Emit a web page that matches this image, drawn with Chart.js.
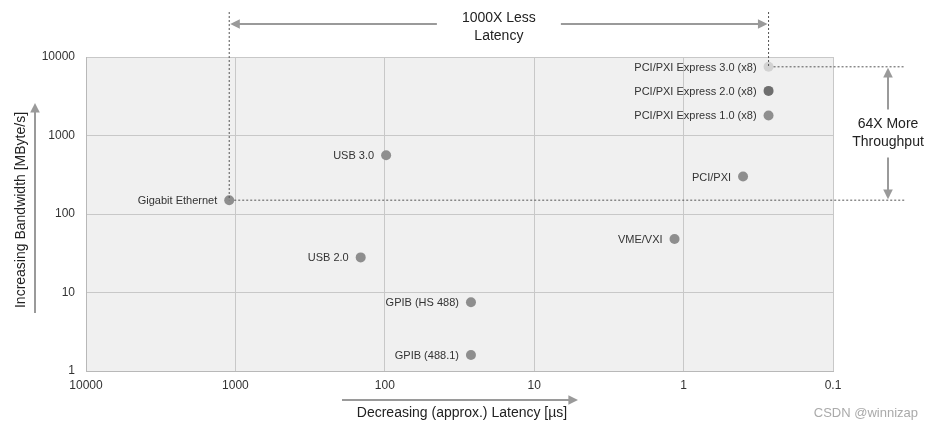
<!DOCTYPE html>
<html>
<head>
<meta charset="utf-8">
<script src="https://cdn.jsdelivr.net/npm/chart.js@4/dist/chart.umd.min.js"></script>
<style>
  html, body { margin: 0; padding: 0; background: #fff; }
  #wrap { width: 934px; height: 429px; }
</style>
</head>
<body>
<div id="wrap"><canvas id="bus-chart"></canvas></div>
<script>
const busNames = [
  'Gigabit Ethernet', 'USB 3.0', 'USB 2.0', 'GPIB (HS 488)', 'GPIB (488.1)',
  'VME/VXI', 'PCI/PXI', 'PCI/PXI Express 3.0 (x8)', 'PCI/PXI Express 2.0 (x8)',
  'PCI/PXI Express 1.0 (x8)',
]
// latency in µs, bandwidth in MByte/s
const latency = [1100, 98, 145, 26.5, 26.5, 1.15, 0.4, 0.27, 0.27, 0.27]
const bandwidth = [150, 560, 28, 7.5, 1.6, 48, 300, 7500, 3700, 1800]
const xTicks = [10000, 1000, 100, 10, 1, 0.1]
const yTicks = [1, 10, 100, 1000, 10000]

const pointColors = busNames.map(n =>
  n.includes('3.0 (x8)') ? '#d2d2d2' : n.includes('2.0 (x8)') ? '#6e6e6e' : '#8e8e8e')

const FONT = '"Liberation Sans", Arial, sans-serif'
const ARROW = '#9a9a9a'

function arrowHead(ctx, x, y, dir) {
  const s = 6
  ctx.beginPath()
  if (dir === 'left') { ctx.moveTo(x, y); ctx.lineTo(x + s * 1.6, y - s * 0.8); ctx.lineTo(x + s * 1.6, y + s * 0.8) }
  if (dir === 'right') { ctx.moveTo(x, y); ctx.lineTo(x - s * 1.6, y - s * 0.8); ctx.lineTo(x - s * 1.6, y + s * 0.8) }
  if (dir === 'up') { ctx.moveTo(x, y); ctx.lineTo(x - s * 0.8, y + s * 1.6); ctx.lineTo(x + s * 0.8, y + s * 1.6) }
  if (dir === 'down') { ctx.moveTo(x, y); ctx.lineTo(x - s * 0.8, y - s * 1.6); ctx.lineTo(x + s * 0.8, y - s * 1.6) }
  ctx.closePath()
  ctx.fill()
}

function line(ctx, x1, y1, x2, y2) {
  ctx.beginPath()
  ctx.moveTo(x1, y1)
  ctx.lineTo(x2, y2)
  ctx.stroke()
}

const plotBg = {
  id: 'plotBg',
  beforeDraw(chart) {
    const { ctx, chartArea: a } = chart
    ctx.save()
    ctx.fillStyle = '#f0f0f0'
    ctx.fillRect(a.left, a.top, a.right - a.left, a.bottom - a.top)
    ctx.restore()
  },
}

const annotations = {
  id: 'annotations',
  afterDraw(chart) {
    const { ctx } = chart
    const xs = chart.scales.x
    const ys = chart.scales.y
    const gx = xs.getPixelForValue(latency[0])
    const gy = ys.getPixelForValue(bandwidth[0])
    const px = xs.getPixelForValue(latency[7])
    const py = ys.getPixelForValue(bandwidth[7])
    ctx.save()

    // point labels
    ctx.font = '11px ' + FONT
    ctx.fillStyle = '#333'
    ctx.textAlign = 'right'
    ctx.textBaseline = 'middle'
    busNames.forEach((name, i) => {
      const x = xs.getPixelForValue(latency[i])
      const y = ys.getPixelForValue(bandwidth[i])
      ctx.fillText(name, x - 12, y + 1)
    })

    // dashed guide lines
    ctx.strokeStyle = '#555'
    ctx.lineWidth = 1
    ctx.setLineDash([2, 2])
    line(ctx, gx, 12, gx, gy)
    line(ctx, px, 12, px, py)
    line(ctx, gx + 5, gy, 905, gy)
    line(ctx, px + 5, py, 905, py)
    ctx.setLineDash([])

    // top latency arrow
    const topY = 24
    const mid = (gx + px) / 2
    ctx.strokeStyle = ARROW
    ctx.fillStyle = ARROW
    ctx.lineWidth = 2
    line(ctx, gx + 6, topY, mid - 62, topY)
    arrowHead(ctx, gx + 1, topY, 'left')
    line(ctx, mid + 62, topY, px - 6, topY)
    arrowHead(ctx, px - 1, topY, 'right')

    // right throughput arrow
    const ax = 888
    const midY = (gy + py) / 2
    line(ctx, ax, py + 6, ax, midY - 24)
    arrowHead(ctx, ax, py + 1, 'up')
    line(ctx, ax, midY + 24, ax, gy - 6)
    arrowHead(ctx, ax, gy - 1, 'down')

    // axis arrows
    line(ctx, 35, 313, 35, 108)
    arrowHead(ctx, 35, 103, 'up')
    line(ctx, 342, 400, 572, 400)
    arrowHead(ctx, 578, 400, 'right')

    ctx.fillStyle = '#222'
    ctx.font = '14px ' + FONT
    ctx.textAlign = 'center'
    ctx.textBaseline = 'middle'
    ctx.fillText('1000X Less', mid, 18)
    ctx.fillText('Latency', mid, 36)
    ctx.fillText('64X More', ax, midY - 9)
    ctx.fillText('Throughput', ax, midY + 9)

    // axis titles
    ctx.fillText('Decreasing (approx.) Latency [µs]', 462, 413)
    ctx.save()
    ctx.translate(21, 210)
    ctx.rotate(-Math.PI / 2)
    ctx.fillText('Increasing Bandwidth [MByte/s]', 0, 0)
    ctx.restore()

    // watermark
    ctx.fillStyle = '#aaa'
    ctx.font = '13px ' + FONT
    ctx.textAlign = 'right'
    ctx.fillText('CSDN @winnizap', 918, 413)
    ctx.restore()
  },
}

const ctxBus = document.getElementById('bus-chart').getContext('2d')
const busChart = new Chart(ctxBus, {
  type: 'scatter',
  data: {
    datasets: [{
      data: latency.map((x, i) => ({ x, y: bandwidth[i] })),
      pointBackgroundColor: pointColors,
      pointBorderWidth: 0,
      pointRadius: 5,
    }],
  },
  options: {
    responsive: true,
    maintainAspectRatio: false,
    animation: false,
    layout: { padding: { top: 57, right: 101, left: 0, bottom: 0 } },
    plugins: {
      legend: { display: false },
      tooltip: { enabled: false },
    },
    scales: {
      x: {
        type: 'logarithmic',
        reverse: true,
        min: 0.1,
        max: 10000,
        afterBuildTicks: axis => { axis.ticks = xTicks.map(v => ({ value: v })) },
        afterFit: scale => { scale.height = 58 },
        grid: { color: '#c8c8c8', drawTicks: false },
        border: { color: '#b8b8b8' },
        ticks: {
          padding: 7,
          color: '#333',
          font: { family: FONT, size: 12 },
          maxRotation: 0,
          autoSkip: false,
          callback: v => String(v),
        },
      },
      y: {
        type: 'logarithmic',
        min: 1,
        max: 10000,
        afterBuildTicks: axis => { axis.ticks = yTicks.map(v => ({ value: v })) },
        afterFit: scale => { scale.width = 86 },
        grid: { color: '#c8c8c8', drawTicks: false },
        border: { color: '#b8b8b8' },
        ticks: {
          padding: 11,
          color: '#333',
          font: { family: FONT, size: 12 },
          autoSkip: false,
          callback: v => String(v),
        },
      },
    },
  },
  plugins: [plotBg, annotations],
})
</script>
</body>
</html>
